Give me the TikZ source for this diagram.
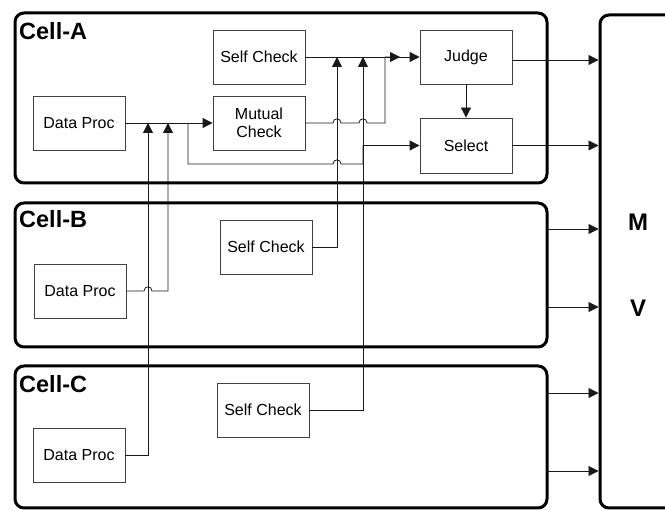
\documentclass[tikz,border=0pt]{standalone}
\usepackage{fontspec}
\setmainfont{Liberation Sans}
\usetikzlibrary{arrows.meta}
\begin{document}
\begin{tikzpicture}[x=1pt,y=-1pt,
  box/.style={draw=black!75, line width=0.8pt, minimum width=92pt, minimum height=54pt, inner sep=0pt, font=\fontsize{16}{18}\selectfont, align=center},
  cell/.style={draw=black, line width=3pt, rounded corners=9pt, inner sep=0pt},
  lbl/.style={font=\fontsize{23.5}{26}\selectfont\bfseries, anchor=base west, inner sep=0pt},
  mvlbl/.style={font=\fontsize{24}{26}\selectfont\bfseries, inner sep=0pt},
  con/.style={draw=black!90, line width=0.8pt},
  arr/.style={con, -{Triangle[length=10pt,width=10pt]}}
]
\useasboundingbox (0,0) rectangle (665,510);

% cells
\node[cell, minimum width=532pt, minimum height=170pt] (cella) at (281,98) {};
\node[cell, minimum width=532pt, minimum height=144pt] (cellb) at (281,275) {};
\node[cell, minimum width=532pt, minimum height=142pt] (cellc) at (281,437) {};
\node[cell, minimum width=120pt, minimum height=493pt] (mv) at (660,261.5) {};

\node[lbl] (la) at (19,40) {Cell-A};
\node[lbl] (lb) at (19,228) {Cell-B};
\node[lbl] (lc) at (19,393) {Cell-C};
\node[mvlbl] (m) at (638,222) {M};
\node[mvlbl] (v) at (638,308) {V};

% boxes
\node[box] (sca) at (259,57) {Self Check};
\node[box] (dpa) at (79,123) {Data Proc};
\node[box] (mca) at (259,123) {Mutual\\Check};
\node[box] (ju) at (466,57) {Judge};
\node[box, minimum height=55pt] (sel) at (466,145.5) {Select};
\node[box] (scb) at (266,247) {Self Check};
\node[box] (dpb) at (80,291) {Data Proc};
\node[box] (scc) at (263,410) {Self Check};
\node[box] (dpc) at (79,455) {Data Proc};

% coordinates
\coordinate (ta1) at (148,123);
\coordinate (ta2) at (168,123);
\coordinate (tb) at (337,57);
\coordinate (tc) at (363,57);
\coordinate (jin) at (400,57);
\coordinate (br) at (188,123);
\coordinate (b1) at (547,229);
\coordinate (b2) at (547,307);
\coordinate (c1) at (547,393);
\coordinate (c2) at (547,471);

% connectors in Cell-A
\draw[arr] (dpa.east) -- (mca.west);
\draw[arr] (sca.east) -- (ju.west);
\draw[arr] (mca.east) -- (333,123) .. controls (333,117.5) and (341,117.5) .. (341,123)
  -- (359,123) .. controls (359,117.5) and (367,117.5) .. (367,123) -- (385,123) -- (385,57) -- (jin);
\draw[arr] (br) -- (188,164) -- (333,164) .. controls (333,158.5) and (341,158.5) .. (341,164)
  -- (363,164) -- (363,145.5) -- (sel.west);
\draw[arr] (ju.south) -- (sel.north);
\draw[arr] ([yshift=-3pt]ju.east) -- ([yshift=-3pt]ju.east -| mv.west);
\draw[arr] (sel.east) -- (sel.east -| mv.west);

% cross-cell connectors
\draw[arr] (dpc.east) -| (ta1);
\draw[arr] (dpb.east) -- (144,291) .. controls (144,285.5) and (152,285.5) .. (152,291) -| (ta2);
\draw[arr] (scb.east) -| (tb);
\draw[arr] (scc.east) -| (tc);

% outputs of Cell-B and Cell-C
\draw[arr] (b1) -- (b1 -| mv.west);
\draw[arr] (b2) -- (b2 -| mv.west);
\draw[arr] (c1) -- (c1 -| mv.west);
\draw[arr] (c2) -- (c2 -| mv.west);
\end{tikzpicture}
\end{document}
